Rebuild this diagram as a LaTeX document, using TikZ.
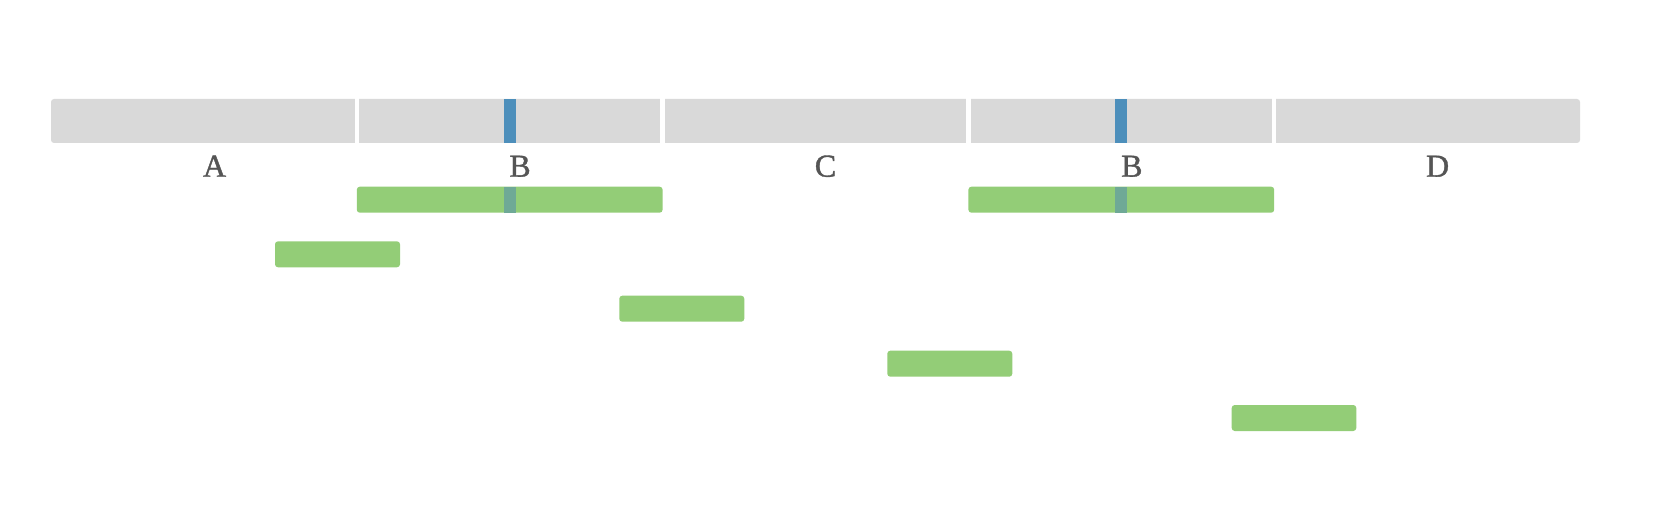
\documentclass[tikz,border=0pt]{standalone}
\usepackage{fontspec}
\setmainfont{Liberation Serif}
\newfontfamily\labfont[FakeBold=1.2]{Liberation Serif}
\usetikzlibrary{positioning}
\definecolor{bargray}{HTML}{D9D9D9}
\definecolor{markblue}{HTML}{4D8FBB}
\definecolor{spangreen}{HTML}{93CD77}
\definecolor{mixgreen}{HTML}{6FA996}
\definecolor{labelgray}{HTML}{555555}

\begin{document}
\begin{tikzpicture}[x=1pt,y=-1pt]
      \useasboundingbox (0,0) rectangle (1660,524);

      % track with its five segments
      \fill[bargray, rounded corners=3pt] (51,99) rectangle (1580,143);
      \foreach \x in {356.8,662.6,968.4,1274.2} {
        \draw[white, line width=4.5pt] (\x,97) -- (\x,145);
      }
      \foreach \x in {509.5,1121.3} {
        \fill[markblue] (\x-6,99) rectangle (\x+6,143);
      }

      \begin{scope}[every node/.style={anchor=base, inner sep=0pt, text=labelgray,
          font=\labfont\fontsize{32}{36}\selectfont}]
        \node (labA) at (214.5,176.7) {A};
        \node (labBa) at (520,176.7) {B};
        \node (labC) at (825.5,176.7) {C};
        \node (labBb) at (1131.8,176.7) {B};
        \node (labD) at (1437.6,176.7) {D};
      \end{scope}

      % spans
      \foreach \a/\b/\y in {356.8/662.6/186.7, 968.4/1274.2/186.7, 275/400/241.3,
          619.3/744.3/295.7, 887.3/1012.3/350.7, 1231.7/1356.3/405} {
        \fill[spangreen, rounded corners=3pt] (\a,\y) rectangle (\b,\y+26);
      }
      \foreach \x in {509.5,1121.3} {
        \fill[mixgreen] (\x-6,186.7) rectangle (\x+6,212.7);
      }
    \end{tikzpicture}
\end{document}
